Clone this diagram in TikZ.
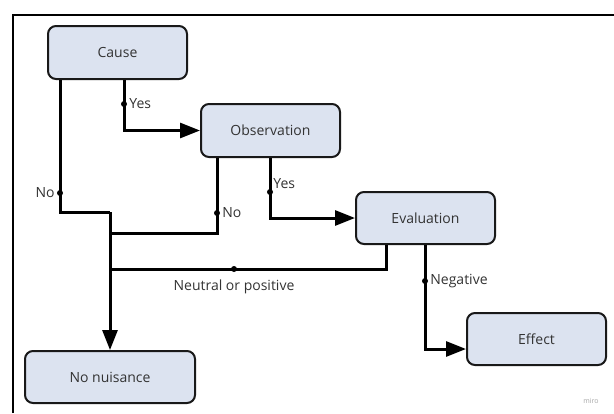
\documentclass[tikz,border=0pt]{standalone}
\usepackage{fontspec}
\setmainfont{Open Sans}
\usetikzlibrary{arrows.meta,positioning}
\definecolor{boxfill}{HTML}{DCE3F0}
\definecolor{txt}{HTML}{333333}
\tikzset{
  stepbox/.style={draw=black!90,line width=2pt,fill=boxfill,rounded corners=8pt,
    minimum width=139pt,minimum height=53pt,text=txt,font=\fontsize{14}{16}\selectfont,inner sep=0pt},
  conn/.style={line width=3pt,draw=black},
  arr/.style={conn,-{Triangle[length=20pt,width=15pt]}},
  dotmark/.style={circle,fill=black,inner sep=0pt,minimum size=6pt},
  lbl/.style={text=txt,font=\fontsize{14}{16}\selectfont,inner sep=2pt}
}
\begin{document}
\begin{tikzpicture}[x=1pt,y=-1pt]
\useasboundingbox (0,0) rectangle (614,413);
\fill[white] (0,0) rectangle (614,413);
% frame
\coordinate (fbl) at (13,413);
\coordinate (ftl) at (13,15);
\coordinate (ftr) at (614,15);
\draw[line width=2.5pt] (fbl) -- (ftl) -- (ftr);
% nodes
\node[stepbox] (cause) at (117.5,52.5) {Cause};
\node[stepbox] (obs) at (270.5,130.5) {Observation};
\node[stepbox,minimum height=52pt] (eval) at (425.5,218) {Evaluation};
\node[stepbox,minimum height=52pt] (effect) at (536.5,339) {Effect};
\node[stepbox,minimum width=170pt,minimum height=52pt] (nonuis) at (110,377) {No nuisance};
% junction coordinates
\coordinate (j1) at (124,131);
\coordinate (c1) at (60,212);
\coordinate (m1) at (110,212);
\coordinate (c2) at (217,233);
\coordinate (m2) at (110,233);
\coordinate (c3) at (386,269);
\coordinate (m3) at (110,269);
\coordinate (c4) at (425,349);
% connectors
\draw[arr] (cause.south -| j1) |- (obs.west);
\draw[conn] (cause.south -| c1) |- (m1);
\draw[conn] (obs.south -| c2) |- (m2);
\draw[arr] (obs.south) |- (eval.west);
\draw[conn] (eval.south -| c3) |- (m3);
\draw[arr] (eval.south -| c4) |- (effect.west |- c4);
\draw[arr] (m1) -- (nonuis.north);
% dots and labels
\node[dotmark] (d1) at (124,104) {};
\node[lbl,anchor=west] at (d1.east) {Yes};
\node[dotmark] (d2) at (60,193) {};
\node[lbl,anchor=east] at (d2.west) {No};
\node[dotmark] (d3) at (217,213) {};
\node[lbl,anchor=west] at (d3.east) {No};
\node[dotmark] (d4) at (270,192) {};
\node[lbl,anchor=south west,inner sep=1pt] at (d4.north east) {Yes};
\node[dotmark] (d5) at (234,269) {};
\node[lbl,anchor=north] at ([yshift=-5pt]d5.south) {Neutral or positive};
\node[dotmark] (d6) at (425,281) {};
\node[lbl,anchor=west] at (d6.east) {Negative};
\node[text=black!35,font=\fontsize{7}{8}\selectfont] (miro) at (591,401) {miro};
\end{tikzpicture}
\end{document}
